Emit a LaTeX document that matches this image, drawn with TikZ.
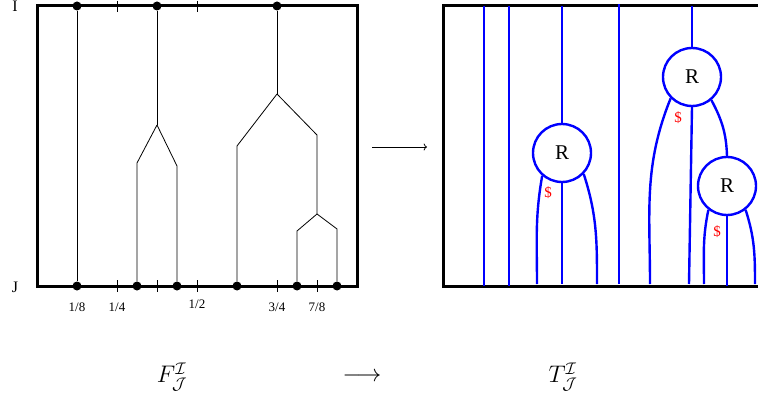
\RequirePackage{fix-cm}
\documentclass[tikz,border=0pt]{standalone}
\usepackage{amsmath,amssymb}
\usepackage{fontspec}
\setmainfont{Liberation Serif}
\usetikzlibrary{arrows.meta}

\begin{document}
\begin{tikzpicture}[x=1pt, y=-1pt,
    frm/.style={line width=3pt},
    edg/.style={line width=0.8pt},
    dot/.style={circle, fill, inner sep=0pt, minimum size=9pt},
    lbl/.style={font=\fontsize{16}{18}\selectfont, inner sep=0pt},
    frac/.style={font=\fontsize{13}{15}\selectfont, inner sep=0pt},
    wire/.style={blue, line width=2.4pt},
    rnd/.style={circle, draw=blue, line width=2.4pt, fill=white,
                minimum size=58pt, inner sep=0pt,
                font=\fontsize{21}{24}\selectfont},
    cash/.style={red, font=\fontsize{15}{17}\selectfont, inner sep=0pt},
    big/.style={font=\fontsize{24}{28}\selectfont, inner sep=0pt}
  ]
    \useasboundingbox (0,0) rectangle (758,401);

    % left box
    \draw[frm] (37,6) rectangle (357,286);
    \foreach \x in {117,197} \draw[edg] (\x,1) -- (\x,12);
    \foreach \x in {117,157,197,277,317} \draw[edg] (\x,280) -- (\x,292);
    \node[lbl] (li) at (15,6) {I};
    \node[lbl] (lj) at (15,287) {J};
    \node[frac] at (77,307) {1/8}; \node[frac] at (117,307) {1/4};
    \node[frac] at (197,304) {1/2}; \node[frac] at (277,307) {3/4};
    \node[frac] at (317,307) {7/8};

    \node[dot] (t1) at (77,6) {};  \node[dot] (t2) at (157,6) {};
    \node[dot] (t3) at (277,6) {};
    \node[dot] (b1) at (77,286) {};  \node[dot] (b2) at (137,286) {};
    \node[dot] (b3) at (177,286) {}; \node[dot] (b4) at (237,286) {};
    \node[dot] (b5) at (297,286) {}; \node[dot] (b6) at (337,286) {};
    \coordinate (s2) at (157,125);
    \coordinate (s3) at (277,94);
    \coordinate (s4) at (317,214);

    \draw[edg] (t1) -- (b1);
    \draw[edg] (t2) -- (s2);
    \draw[edg] (s2) -- ++(-20,38) -- (b2); \draw[edg] (s2) -- ++(20,41) -- (b3);
    \draw[edg] (t3) -- (s3);
    \draw[edg] (s3) -- ++(-40,52) -- (b4); \draw[edg] (s3) -- ++(40,41) -- (s4);
    \draw[edg] (s4) -- ++(-20,17) -- (b5); \draw[edg] (s4) -- ++(20,15) -- (b6);

    \coordinate (ma) at (372,147); \coordinate (mb) at (427,147);
    \draw[edg, ->] (ma) -- (mb);

    % right box
    \draw[frm] (760,6) -| (443,286) -- (760,286);
    \coordinate (i1) at (484,6); \coordinate (i2) at (509,6);
    \coordinate (i3) at (562,6); \coordinate (i4) at (619,4);
    \coordinate (i5) at (692,6);
    \coordinate (o1) at (484,286); \coordinate (o2) at (509,286);
    \coordinate (o3) at (537,284); \coordinate (o4) at (562,284);
    \coordinate (o5) at (597,284); \coordinate (o6) at (619,284);
    \coordinate (o7) at (650,284); \coordinate (o8) at (689,284);
    \coordinate (o9) at (704,284); \coordinate (o10) at (727,286);
    \coordinate (o11) at (755,284);

    \node[rnd] (r1) at (562,153) {R};
    \node[rnd] (r2) at (692,77) {R};
    \node[rnd] (r3) at (727,186) {R};

    \draw[wire] (i1) -- (o1); \draw[wire] (i2) -- (o2); \draw[wire] (i4) -- (o6);
    \draw[wire] (i3) -- (r1); \draw[wire] (i5) -- (r2);
    \draw[wire] (r1.-131) to[out=-100, in=90] (o3);
    \draw[wire] (r1.south) -- (o4);
    \draw[wire] (r1.-44) to[out=-72, in=90] (o5);
    \draw[wire] (r2.-135) to[out=-112, in=90] (o7);
    \draw[wire] (r2.south) -- (o8);
    \draw[wire] (r2.-50) to[out=-62, in=92] (r3.north);
    \draw[wire] (r3.-128) to[out=-102, in=90] (o9);
    \draw[wire] (r3.south) -- (o10);
    \draw[wire] (r3.-52) to[out=-72, in=90] (o11);
    \node[cash] at (548,193) {\$};
    \node[cash] at (678,118) {\$};
    \node[cash] at (717,232) {\$};

    % bottom line
    \node[big] (fl) at (172,377) {$F^{\mathcal{I}}_{\mathcal{J}}$};
    \node[big] (ar) at (362,377) {$\longrightarrow$};
    \node[big] (tl) at (563,377) {$T^{\mathcal{I}}_{\mathcal{J}}$};
  \end{tikzpicture}
\end{document}
